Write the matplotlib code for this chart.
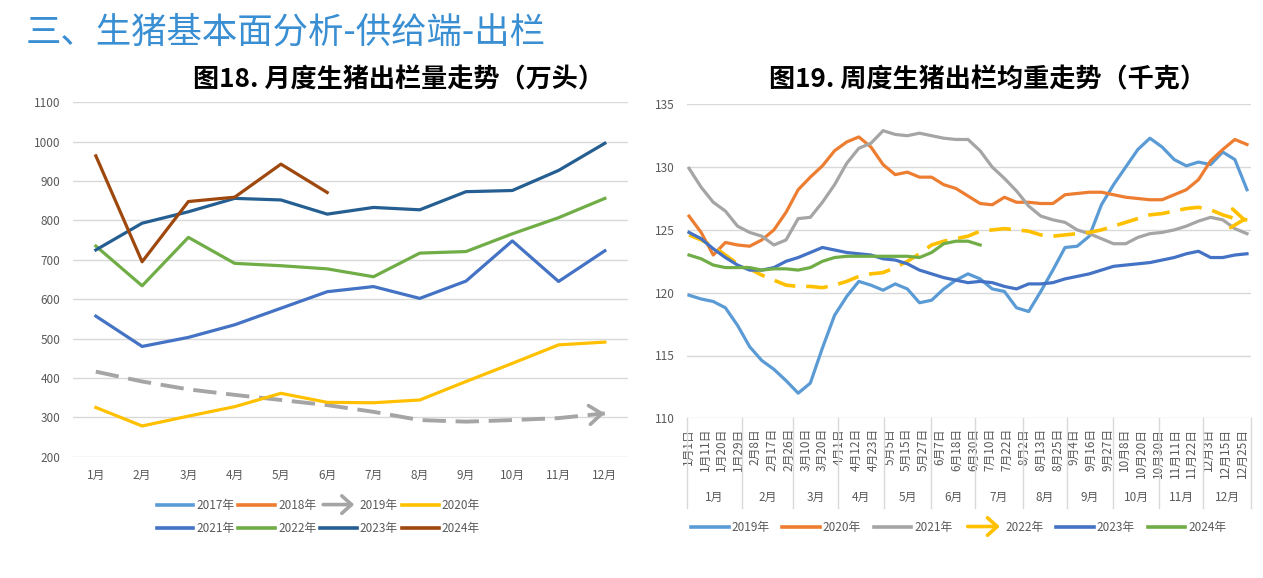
import numpy as np
import matplotlib
matplotlib.use('Agg')
import matplotlib.pyplot as plt
import matplotlib.patches as mpatches
from matplotlib.lines import Line2D
import matplotlib.transforms as mtransforms

plt.rcParams['font.family'] = ['Noto Sans CJK SC', 'DejaVu Sans']

# ---- 图18 月度出栏量（万头）
months = ['1月', '2月', '3月', '4月', '5月', '6月', '7月', '8月', '9月', '10月', '11月', '12月']
m2017 = []
m2018 = []
m2019 = [416, 391, 371, 357, 344, 331, 314, 293, 289, 293, 298, 310]
m2020 = [325, 278, 303, 327, 361, 338, 337, 344, 391, 437, 484, 491]
m2021 = [557, 480, 503, 535, 577, 619, 632, 602, 646, 748, 645, 723]
m2022 = [735, 634, 757, 691, 685, 677, 657, 717, 721, 766, 807, 856]
m2023 = [725, 793, 822, 856, 852, 816, 833, 827, 873, 876, 927, 996]
m2024 = [964, 695, 848, 859, 943, 871]

# ---- 图19 周度出栏均重（千克）
w2019 = [119.8, 119.5, 119.3, 118.8, 117.4, 115.7, 114.6, 113.9, 113.0, 112.0, 112.8, 115.6, 118.2, 119.7,
         120.9, 120.6, 120.2, 120.7, 120.3, 119.2, 119.4, 120.3, 121.0, 121.5, 121.1, 120.3, 120.1, 118.8,
         118.5, 120.1, 121.8, 123.6, 123.7, 124.5, 127.0, 128.6, 130.0, 131.4, 132.3, 131.6, 130.6, 130.1,
         130.4, 130.2, 131.2, 130.6, 128.2]
w2020 = [126.1, 124.8, 123.0, 124.0, 123.8, 123.7, 124.2, 125.0, 126.4, 128.2, 129.2, 130.1, 131.3, 132.0,
         132.4, 131.6, 130.2, 129.4, 129.6, 129.2, 129.2, 128.6, 128.3, 127.7, 127.1, 127.0, 127.6, 127.2,
         127.2, 127.1, 127.1, 127.8, 127.9, 128.0, 128.0, 127.8, 127.6, 127.5, 127.4, 127.4, 127.8, 128.2,
         129.0, 130.5, 131.4, 132.2, 131.8]
w2021 = [129.9, 128.4, 127.2, 126.5, 125.3, 124.8, 124.5, 123.8, 124.2, 125.9, 126.0, 127.2, 128.6, 130.3,
         131.5, 131.9, 132.9, 132.6, 132.5, 132.7, 132.5, 132.3, 132.2, 132.2, 131.3, 130.0, 129.1, 128.1,
         126.9, 126.1, 125.8, 125.6, 125.0, 124.7, 124.3, 123.9, 123.9, 124.4, 124.7, 124.8, 125.0, 125.3,
         125.7, 126.0, 125.8, 125.1, 124.7]
w2022 = [124.6, 124.2, 123.7, 123.0, 122.3, 121.9, 121.4, 121.0, 120.6, 120.5, 120.5, 120.4, 120.6, 120.9,
         121.3, 121.5, 121.6, 122.0, 122.5, 123.1, 123.8, 124.1, 124.3, 124.5, 124.9, 125.0, 125.1, 125.0,
         124.9, 124.6, 124.5, 124.6, 124.7, 124.8, 125.0, 125.3, 125.6, 125.9, 126.2, 126.3, 126.5, 126.7,
         126.8, 126.6, 126.2, 125.9, 125.8]
w2023 = [124.8, 124.3, 123.5, 122.8, 122.2, 121.8, 121.8, 122.0, 122.5, 122.8, 123.2, 123.6, 123.4, 123.2,
         123.1, 123.0, 122.7, 122.6, 122.3, 121.8, 121.5, 121.2, 121.0, 120.8, 120.9, 120.8, 120.5, 120.3,
         120.7, 120.7, 120.8, 121.1, 121.3, 121.5, 121.8, 122.1, 122.2, 122.3, 122.4, 122.6, 122.8, 123.1,
         123.3, 122.8, 122.8, 123.0, 123.1]
w2024 = [123.0, 122.7, 122.2, 122.0, 122.0, 122.0, 121.8, 121.9, 121.9, 121.8, 122.0, 122.5, 122.8, 122.9,
         122.9, 122.9, 122.9, 122.9, 122.9, 122.8, 123.2, 123.9, 124.1, 124.1, 123.8]

date_labels = ['1月1日', '1月11日', '1月20日', '1月29日', '2月8日', '2月17日', '2月26日', '3月10日', '3月20日',
               '4月1日', '4月12日', '4月23日', '5月5日', '5月15日', '5月27日', '6月7日', '6月18日', '6月30日',
               '7月10日', '7月22日', '8月2日', '8月13日', '8月25日', '9月4日', '9月16日', '9月27日',
               '10月8日', '10月20日', '10月30日', '11月11日', '11月22日', '12月3日', '12月15日', '12月25日']
# 月份分组边界（以周序号为单位）
month_edges = [-0.165, 4.37, 8.57, 12.28, 16.08, 19.95, 23.58, 27.54, 31.16, 34.96, 38.75, 42.38, 46.33]

grid_c = '#D9D9D9'
tick_c = '#595959'
lw = 2.3


class ArrowHandler:
    def legend_artist(self, legend, orig_handle, fontsize, handlebox):
        x0, y0 = -handlebox.xdescent, -handlebox.ydescent
        w, h = handlebox.width, handlebox.height
        a = mpatches.FancyArrowPatch((x0, y0 + h / 2), (x0 + w, y0 + h / 2),
                                     arrowstyle='->,head_length=0.5,head_width=0.45',
                                     mutation_scale=14, color=orig_handle.get_color(), lw=2.6)
        handlebox.add_artist(a)
        return a


def end_arrow(ax, x, y, color):
    # 线末端的箭头
    dx = x[-1] - x[-2]
    dy = y[-1] - y[-2]
    ax.annotate('', xy=(x[-1], y[-1]), xytext=(x[-1] - 0.1 * dx, y[-1] - 0.1 * dy),
                arrowprops=dict(arrowstyle='->,head_length=0.6,head_width=0.45', color=color,
                                lw=2.6, shrinkA=0, shrinkB=0, mutation_scale=15))


fig = plt.figure(figsize=(12.63, 5.78), dpi=100)
fig.text(0.02, 0.944, '三、生猪基本面分析-供给端-出栏', fontsize=25.5, color='#3A8FD3',
         va='center', ha='left')

# ========== 左图 ==========
ax1 = fig.add_axes([72.7 / 1263, 1 - 456.7 / 578, (628 - 72.7) / 1263, (456.7 - 102.3) / 578])
mx = np.arange(1, 13)
ax1.plot(mx[:len(m2019)], m2019, color='#A5A5A5', lw=2.8, dashes=(6, 2.5))
end_arrow(ax1, mx[:len(m2019)], m2019, '#A5A5A5')
ax1.plot(mx[:len(m2020)], m2020, color='#FFC000', lw=lw, solid_joinstyle='round')
ax1.plot(mx[:len(m2021)], m2021, color='#4472C4', lw=lw, solid_joinstyle='round')
ax1.plot(mx[:len(m2022)], m2022, color='#70AD47', lw=lw, solid_joinstyle='round')
ax1.plot(mx[:len(m2023)], m2023, color='#255E91', lw=lw, solid_joinstyle='round')
ax1.plot(mx[:len(m2024)], m2024, color='#9E480E', lw=lw, solid_joinstyle='round')
ax1.set_xlim(0.5, 12.5)
ax1.set_ylim(200, 1100)
ax1.set_yticks(np.arange(200, 1101, 100))
ax1.set_xticks(mx, months)
ax1.grid(axis='y', color=grid_c, lw=1)
ax1.set_axisbelow(True)
for s in ax1.spines.values():
    s.set_visible(False)
ax1.tick_params(axis='both', length=0, labelsize=8.5, labelcolor=tick_c)
ax1.tick_params(axis='y', pad=9)
ax1.tick_params(axis='x', pad=9)
fig.text(0.3155, 0.8616, '图18. 月度生猪出栏量走势（万头）', fontsize=18.8, fontweight='bold',
         ha='center', va='center')

lab1 = ['2017年', '2018年', '2019年', '2020年', '2021年', '2022年', '2023年', '2024年']
col1 = ['#5B9BD5', '#ED7D31', '#A5A5A5', '#FFC000', '#4472C4', '#70AD47', '#255E91', '#9E480E']
h1 = [Line2D([], [], color=c, lw=2.6) for c in col1]
order = [0, 4, 1, 5, 2, 6, 3, 7]
leg1 = fig.legend([h1[k] for k in order], [lab1[k] for k in order], ncol=4, loc='center',
                  bbox_to_anchor=(0.252, 0.106), frameon=False, fontsize=8.5,
                  handlelength=3.1, handletextpad=0.25, columnspacing=0.35, labelspacing=0.85,
                  handler_map={h1[2]: ArrowHandler()})
for t in leg1.get_texts():
    t.set_color(tick_c)

# ========== 右图 ==========
ax2 = fig.add_axes([687 / 1263, 1 - 418.3 / 578, (1251 - 687) / 1263, (418.3 - 104.3) / 578])
wx = np.arange(47)
ax2.plot(wx[:len(w2019)], w2019, color='#5B9BD5', lw=lw, solid_joinstyle='round')
ax2.plot(wx[:len(w2020)], w2020, color='#ED7D31', lw=lw, solid_joinstyle='round')
ax2.plot(wx[:len(w2021)], w2021, color='#A5A5A5', lw=lw, solid_joinstyle='round')
ax2.plot(wx[:len(w2022)], w2022, color='#FFC000', lw=2.6, dashes=(6, 3))
end_arrow(ax2, wx[:len(w2022)], w2022, '#FFC000')
ax2.plot(wx[:len(w2023)], w2023, color='#4472C4', lw=lw, solid_joinstyle='round')
ax2.plot(wx[:len(w2024)], w2024, color='#70AD47', lw=lw, solid_joinstyle='round')
ax2.set_xlim(month_edges[0], month_edges[-1])
ax2.set_ylim(110, 135)
ax2.set_yticks(np.arange(110, 136, 5))
ax2.grid(axis='y', color=grid_c, lw=1)
ax2.set_axisbelow(True)
for s in ax2.spines.values():
    s.set_visible(False)
ax2.tick_params(axis='both', length=0, labelsize=8.5, labelcolor=tick_c)
ax2.tick_params(axis='y', pad=9)
label_pos = np.linspace(-0.06, 45.6, len(date_labels))
ax2.set_xticks(label_pos, date_labels, rotation=90, fontsize=8.5)
ax2.tick_params(axis='x', pad=7)
trans = mtransforms.blended_transform_factory(ax2.transData, ax2.transAxes)
for e in month_edges:
    ax2.plot([e, e], [0, -0.286], transform=trans, color=grid_c, lw=1, clip_on=False)
for k in range(12):
    ax2.text((month_edges[k] + month_edges[k + 1]) / 2, -0.251, months[k], transform=trans,
             ha='center', va='center', fontsize=8.5, color=tick_c)
fig.text(0.7819, 0.8616, '图19. 周度生猪出栏均重走势（千克）', fontsize=18.8, fontweight='bold',
         ha='center', va='center')

lab2 = ['2019年', '2020年', '2021年', '2022年', '2023年', '2024年']
col2 = ['#5B9BD5', '#ED7D31', '#A5A5A5', '#FFC000', '#4472C4', '#70AD47']
h2 = [Line2D([], [], color=c, lw=2.6) for c in col2]
leg2 = fig.legend(h2, lab2, ncol=6, loc='center', bbox_to_anchor=(0.759, 0.088), frameon=False,
                  fontsize=8.5, handlelength=3.2, handletextpad=0.25, columnspacing=1.05,
                  handler_map={h2[3]: ArrowHandler()})
for t in leg2.get_texts():
    t.set_color(tick_c)

fig.savefig('out.png', dpi=100)
